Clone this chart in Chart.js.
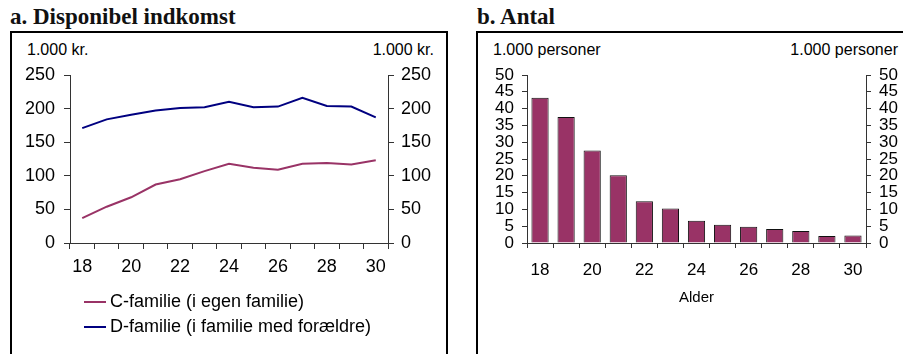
<!DOCTYPE html>
<html>
<head>
<meta charset="utf-8">
<script src="https://cdn.jsdelivr.net/npm/chart.js@4/dist/chart.umd.min.js"></script>
<style>
  body { margin: 0; width: 903px; height: 354px; background: #fff; position: relative; overflow: hidden; font-family: "Liberation Sans", Arial, sans-serif; }
  .title { position: absolute; top: 4px; font: bold 23px "Liberation Serif", serif; color: #111; }
  .box { position: absolute; top: 31px; border: 2px solid #000; border-bottom: none; height: 330px; }
  .unit { position: absolute; top: 41px; font-size: 16px; color: #000; }
  canvas { position: absolute; }
  #legend { position: absolute; left: 84px; top: 289px; font-size: 18px; line-height: 25px; }
  #legend span.swatch { display: inline-block; width: 22px; height: 2px; vertical-align: middle; margin-right: 4px; }
</style>
</head>
<body>
<div class="title" style="left:10px">a. Disponibel indkomst</div>
<div class="title" style="left:477px">b. Antal</div>
<div class="box" style="left:10px; width:434px"></div>
<div class="box" style="left:476px; width:440px"></div>
<div class="unit" style="left:27px">1.000 kr.</div>
<div class="unit" style="left:362px; width:72px; text-align:right">1.000 kr.</div>
<div class="unit" style="left:493px">1.000 personer</div>
<div class="unit" style="left:770px; width:128px; text-align:right">1.000 personer</div>
<canvas id="incomeChart" width="436" height="280" style="left:11px; top:32px"></canvas>
<canvas id="countChart" width="425" height="280" style="left:478px; top:32px"></canvas>
<div id="legend"></div>
<script>
// Ages on the x axis
const ages = ['18', '19', '20', '21', '22', '23', '24', '25', '26', '27', '28', '29', '30'];

// a. Disponibel indkomst (1.000 kr.)
const cFamilie = [37, 54, 68, 87, 95, 107, 118, 112, 109, 118, 119, 117, 123];
const dFamilie = [171, 184, 191, 197, 201, 202, 210, 202, 203, 216, 204, 203, 187];

// b. Antal (1.000 personer)
const antal = [43.2, 37.5, 27.5, 20.2, 12.4, 10.3, 6.6, 5.4, 4.8, 4.2, 3.6, 2.1, 2.2];

const incomeTicks = [0, 50, 100, 150, 200, 250];
const countTicks = [0, 5, 10, 15, 20, 25, 30, 35, 40, 45, 50];

const axisColor = '#333';

// only every second age gets a label
function everyOther(value, index) {
    return index % 2 === 0 ? ages[index] : '';
}

function xAxis(font, padding, height) {
    return {
        type: 'category',
        offset: true,
        grid: { offset: true, drawOnChartArea: false, tickLength: 6, color: axisColor },
        border: { color: axisColor },
        ticks: { autoSkip: false, maxRotation: 0, color: '#000', font: font, padding: padding, callback: everyOther },
        afterFit: (scale) => { scale.height = height; }
    };
}

function yAxis(position, ticks, font, padding, width) {
    return {
        position: position,
        min: ticks[0],
        max: ticks[ticks.length - 1],
        grid: { drawOnChartArea: false, tickLength: 6, color: axisColor },
        border: { color: axisColor },
        ticks: { autoSkip: false, stepSize: ticks[1] - ticks[0], color: '#000', font: font, padding: padding },
        afterFit: (scale) => { scale.width = width; }
    };
}

const incomeFont = { family: '"Liberation Sans", Arial', size: 18 };

const incomeChart = new Chart(document.getElementById('incomeChart'), {
    type: 'line',
    data: {
        labels: ages,
        datasets: [{
            label: 'C-familie (i egen familie)',
            data: cFamilie,
            borderColor: '#993366',
            borderWidth: 2,
            pointRadius: 0,
            tension: 0,
            yAxisID: 'y'
        }, {
            label: 'D-familie (i familie med forældre)',
            data: dFamilie,
            borderColor: '#000080',
            borderWidth: 2,
            pointRadius: 0,
            tension: 0,
            yAxisID: 'y'
        }]
    },
    options: {
        responsive: false,
        animation: false,
        layout: { padding: { top: 43, left: 0, right: 0, bottom: 0 } },
        plugins: { legend: { display: false }, tooltip: { enabled: false } },
        scales: {
            x: xAxis(incomeFont, 7, 69),
            y: yAxis('left', incomeTicks, incomeFont, 9, 59),
            y2: yAxis('right', incomeTicks, incomeFont, 7, 59)
        }
    }
});

// html legend built from the datasets
document.getElementById('legend').innerHTML = incomeChart.data.datasets.map((ds) =>
    `<div><span class="swatch" style="background:${ds.borderColor}"></span>${ds.label}</div>`
).join('');

const countFont = { family: '"Liberation Sans", Arial', size: 17 };
const countX = xAxis(countFont, 12, 69);
countX.grid.tickLength = 5;
countX.title = { display: true, text: 'Alder', color: '#000', font: { family: '"Liberation Sans", Arial', size: 15 }, padding: { top: 0, bottom: 5 } };
const countY = yAxis('left', countTicks, countFont, 8, 49);
countY.grid.tickLength = 5;
const countY2 = yAxis('right', countTicks, countFont, 8, 37);
countY2.grid.tickLength = 5;

new Chart(document.getElementById('countChart'), {
    type: 'bar',
    data: {
        labels: ages,
        datasets: [{
            label: 'Antal',
            data: antal,
            backgroundColor: '#993366',
            borderColor: '#111',
            borderWidth: 1,
            barPercentage: 0.66,
            categoryPercentage: 1
        }]
    },
    options: {
        responsive: false,
        animation: false,
        layout: { padding: { top: 43, left: 0, right: 0, bottom: 0 } },
        plugins: { legend: { display: false }, tooltip: { enabled: false } },
        scales: { x: countX, y: countY, y2: countY2 }
    }
});
</script>
</body>
</html>
